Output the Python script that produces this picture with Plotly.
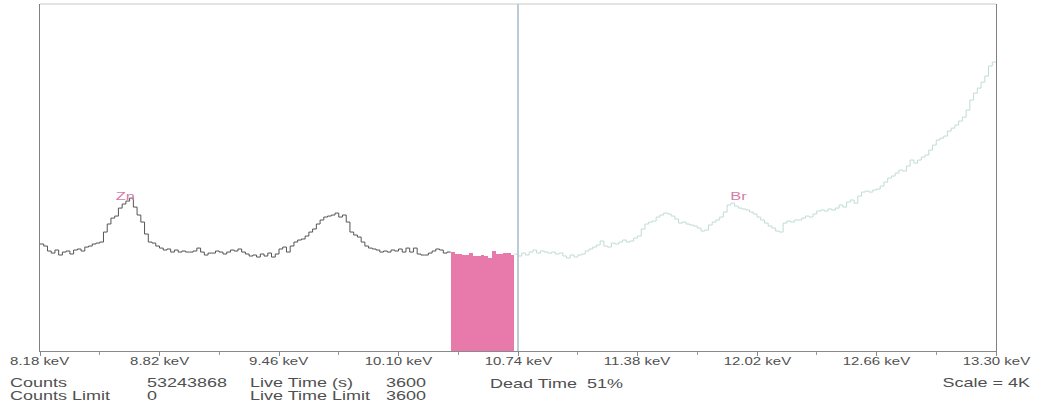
import numpy as np
import plotly.graph_objects as go

# Spectrum channels: 0.02 keV wide, starting at 8.18 keV
START_KEV = 8.18
CHANNEL_KEV = 0.02

# Counts below the region of interest (channels 0-109)
counts_low = [
    1263, 1239, 1180, 1156, 1192, 1133, 1168, 1180, 1145, 1192,
    1204, 1180, 1227, 1239, 1263, 1274, 1286, 1404, 1499, 1569,
    1593, 1687, 1735, 1770, 1805, 1699, 1605, 1522, 1381, 1286,
    1274, 1239, 1215, 1192, 1204, 1168, 1192, 1168, 1180, 1168,
    1168, 1180, 1215, 1168, 1133, 1156, 1156, 1180, 1168, 1145,
    1168, 1192, 1180, 1204, 1168, 1145, 1121, 1133, 1109, 1145,
    1121, 1156, 1109, 1145, 1204, 1227, 1168, 1239, 1286, 1310,
    1322, 1357, 1404, 1440, 1499, 1546, 1581, 1593, 1605, 1628,
    1581, 1605, 1522, 1404, 1369, 1345, 1286, 1239, 1215, 1204,
    1192, 1168, 1180, 1168, 1192, 1180, 1204, 1168, 1215, 1168,
    1215, 1145, 1133, 1133, 1156, 1180, 1204, 1192, 1156, 1168,
]

# Highlighted region of interest (channels 110-126)
counts_roi = [
    1168, 1145, 1145, 1133, 1133, 1156, 1121, 1121, 1133, 1121,
    1097, 1180, 1145, 1145, 1156, 1156, 1133,
]

# Counts above the region of interest (channels 127-255)
counts_high = [
    1145, 1121, 1156, 1133, 1168, 1192, 1156, 1180, 1168, 1156,
    1168, 1145, 1156, 1121, 1097, 1133, 1109, 1133, 1145, 1180,
    1204, 1227, 1251, 1298, 1239, 1227, 1274, 1263, 1286, 1310,
    1286, 1298, 1333, 1357, 1440, 1499, 1522, 1534, 1581, 1605,
    1628, 1617, 1593, 1558, 1510, 1522, 1499, 1487, 1475, 1451,
    1416, 1428, 1487, 1522, 1546, 1581, 1640, 1723, 1746, 1711,
    1687, 1676, 1664, 1640, 1617, 1581, 1546, 1510, 1475, 1451,
    1416, 1404, 1510, 1534, 1522, 1546, 1546, 1569, 1593, 1581,
    1617, 1652, 1664, 1652, 1676, 1664, 1687, 1723, 1699, 1758,
    1782, 1746, 1829, 1876, 1888, 1876, 1900, 1912, 1947, 1994,
    2041, 2065, 2100, 2136, 2124, 2183, 2254, 2218, 2254, 2289,
    2313, 2372, 2431, 2490, 2513, 2537, 2596, 2631, 2667, 2714,
    2761, 2844, 2962, 3044, 3103, 3174, 3245, 3363, 3410,
]

tick_kev = [8.18, 8.82, 9.46, 10.10, 10.74, 11.38, 12.02, 12.66, 13.30]
tick_labels = ["8.18 keV", "8.82 keV", "9.46 keV", "10.10 keV", "10.74 keV",
               "11.38 keV", "12.02 keV", "12.66 keV", "13.30 keV"]
minor_kev = [8.50, 9.14, 9.78, 10.42, 11.06, 11.70, 12.34, 12.98]

element_names = ["Zn", "Br"]
element_kev = [8.64, 11.92]
element_label_counts = 1830

cursor_kev = 10.74
full_scale = 4096

info_labels = ["Counts", "Counts Limit"]
info_values = ["53243868", "0"]
time_labels = ["Live Time (s)", "Live Time Limit"]
time_values = ["3600", "3600"]
dead_time_text = "Dead Time\u00a0 51%"
scale_text = "Scale = 4K"

# ---- geometry (pixels) ----
W, H = 1040, 411
ML, MR, MT, MB = 40, 44, 4, 60
PW, PH = W - ML - MR, H - MT - MB


def paper_x(px):
    return (px - ML) / PW


def paper_y(py):
    return (H - MB - py) / PH


FONT = "Liberation Sans, Arial, sans-serif"
TEXT_COLOR = "#505050"

n_low, n_roi, n_high = len(counts_low), len(counts_roi), len(counts_high)
n_total = n_low + n_roi + n_high
edges = np.round(START_KEV + CHANNEL_KEV * np.arange(n_total + 1), 4)

fig = go.Figure()

# lower part of the spectrum as a step trace
fig.add_trace(go.Scatter(
    x=edges[: n_low + 1],
    y=counts_low + [counts_roi[0]],
    mode="lines", line=dict(shape="hv", color="#555555", width=1),
    hoverinfo="skip", showlegend=False,
))

# region of interest as filled channels
roi_start = n_low
roi_centers = edges[roi_start: roi_start + n_roi] + CHANNEL_KEV / 2
fig.add_trace(go.Bar(
    x=roi_centers, y=counts_roi, width=CHANNEL_KEV,
    marker=dict(color="#e87aab", line=dict(width=0)),
    hoverinfo="skip", showlegend=False,
))

# upper part of the spectrum, drawn faintly
high_start = n_low + n_roi
fig.add_trace(go.Scatter(
    x=edges[high_start:],
    y=counts_high + [counts_high[-1]],
    mode="lines", line=dict(shape="hv", color="#bfdcd6", width=1),
    hoverinfo="skip", showlegend=False,
))

annotations = []

# energy tick labels
for kev, lab in zip(tick_kev, tick_labels):
    annotations.append(dict(
        x=kev, xref="x", y=paper_y(362), yref="paper",
        text=lab, showarrow=False, xanchor="center", yanchor="middle",
        font=dict(family=FONT, size=10, color=TEXT_COLOR),
    ))

# element markers
for name, kev in zip(element_names, element_kev):
    annotations.append(dict(
        x=kev, xref="x", y=element_label_counts, yref="y",
        text=name, showarrow=False, xanchor="center", yanchor="middle",
        font=dict(family=FONT, size=11, color="#d67ba6"),
    ))

# acquisition summary below the axis
row_y = [383, 396]
for col_px, texts in ((8, info_labels), (145, info_values),
                      (248, time_labels), (384, time_values)):
    for py, t in zip(row_y, texts):
        annotations.append(dict(
            x=paper_x(col_px), xref="paper", y=paper_y(py), yref="paper",
            text=t, showarrow=False, xanchor="left", yanchor="middle", align="left",
            font=dict(family=FONT, size=12, color=TEXT_COLOR),
        ))
annotations.append(dict(
    x=paper_x(488), xref="paper", y=paper_y(384), yref="paper",
    text=dead_time_text, showarrow=False, xanchor="left", yanchor="middle", align="left",
    font=dict(family=FONT, size=12, color=TEXT_COLOR),
))
annotations.append(dict(
    x=paper_x(1032), xref="paper", y=paper_y(383), yref="paper",
    text=scale_text, showarrow=False, xanchor="right", yanchor="middle", align="right",
    font=dict(family=FONT, size=12, color=TEXT_COLOR),
))

shapes = [
    # cursor
    dict(type="line", xref="x", yref="paper", x0=cursor_kev, x1=cursor_kev,
         y0=0, y1=1, line=dict(color="#a7bacb", width=1.5)),
    # top frame edge
    dict(type="line", xref="paper", yref="paper", x0=0, x1=1, y0=1, y1=1,
         line=dict(color="#c8c8c8", width=1)),
]

fig.update_layout(
    width=W, height=H,
    margin=dict(l=ML, r=MR, t=MT, b=MB),
    paper_bgcolor="white", plot_bgcolor="white",
    showlegend=False, bargap=0,
    annotations=annotations, shapes=shapes,
    xaxis=dict(
        range=[tick_kev[0], tick_kev[-1]], showgrid=False, zeroline=False,
        tickvals=tick_kev, showticklabels=False,
        ticks="outside", ticklen=4, tickcolor="#888888", tickwidth=1,
        minor=dict(tickvals=minor_kev, ticks="outside", ticklen=3,
                   tickcolor="#999999", tickwidth=1),
        showline=True, linecolor="#8a8a8a", linewidth=1,
    ),
    yaxis=dict(
        range=[0, full_scale], showgrid=False, zeroline=False,
        showticklabels=False, ticks="",
        showline=True, linecolor="#808080", linewidth=1, mirror=True,
    ),
)

# the instrument font is drawn wide: stretch label text horizontally
stretch_css = """
var st = document.createElement('style');
st.textContent = '.annotation-text{transform-box:fill-box;transform:scaleX(1.5);transform-origin:center;}'
  + '.annotation-text[text-anchor="start"]{transform-origin:left center;}'
  + '.annotation-text[text-anchor="end"]{transform-origin:right center;}';
document.head.appendChild(st);
"""

fig.write_html("out.html", post_script=stretch_css)
